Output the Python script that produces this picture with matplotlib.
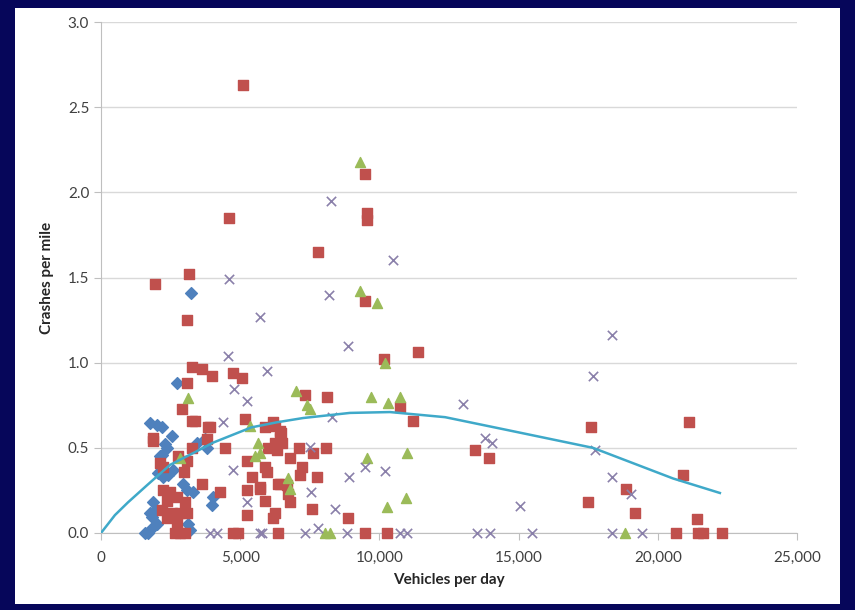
import matplotlib
matplotlib.use("Agg")
import matplotlib.pyplot as plt
from matplotlib.patches import Rectangle
from matplotlib.ticker import FuncFormatter, MultipleLocator

plt.rcParams['font.family'] = ['Lato', 'DejaVu Sans']

# blue diamonds
blue_x = [3230, 2730, 1760, 2010, 2190, 2550, 2370, 2190, 2120, 2300, 3450, 3740,
          2050, 2230, 2590, 2410, 2950, 3090, 3310, 1870, 1940, 1830, 1760,
          1580, 1690, 2010, 1830, 3120, 3200, 4020, 3990, 3810]
blue_y = [1.41, 0.88, 0.645, 0.635, 0.62, 0.57, 0.50, 0.46, 0.45, 0.52, 0.53, 0.55,
          0.35, 0.33, 0.37, 0.34, 0.29, 0.25, 0.24, 0.18, 0.135, 0.094, 0.12,
          0.0, 0.0, 0.05, 0.03, 0.05, 0.02, 0.21, 0.165, 0.50]

# red squares
red_x = [5100, 9480, 9550, 9550, 4600, 7800, 1940, 3160, 9480, 3090, 10170, 11390,
         3270, 3630, 3990, 4740, 5060, 3090, 2910, 3270, 3380, 3840, 1870, 1870,
         3270, 2770, 3090, 2120, 2230, 3810, 2980, 3630,
         2230, 2480, 2370, 2730, 3020, 2190, 2550, 2840, 3090, 2370, 2730,
         2660, 2840, 3020,
         7330, 8120, 10740, 11210, 6180, 6430, 6430, 6250, 6000, 5890, 7110, 7620,
         8080, 6790, 7220, 7150, 7760, 5890, 5960, 5710, 6430, 6720, 6790, 5890,
         6250, 7580, 8870, 5170, 3920, 6250, 6470, 6500, 6320, 4450, 5240, 5420,
         5710, 6360, 6680, 5240, 4270, 5240, 6180,
         4740, 4920, 6360, 9480, 10270,
         17600, 21120, 13430, 13940, 20900, 18860, 17490, 19180, 21410,
         20650, 21440, 21620, 22310]
red_y = [2.63, 2.11, 1.88, 1.84, 1.85, 1.65, 1.46, 1.52, 1.36, 1.25, 1.02, 1.06,
         0.975, 0.96, 0.92, 0.94, 0.91, 0.88, 0.73, 0.66, 0.66, 0.62, 0.56, 0.54,
         0.50, 0.45, 0.42, 0.41, 0.39, 0.55, 0.36, 0.29,
         0.25, 0.24, 0.19, 0.21, 0.18, 0.135, 0.12, 0.12, 0.12, 0.09, 0.065,
         0.0, 0.0, 0.0,
         0.81, 0.80, 0.74, 0.66, 0.65, 0.60, 0.56, 0.53, 0.50, 0.62, 0.50, 0.47,
         0.50, 0.44, 0.39, 0.34, 0.33, 0.39, 0.36, 0.27, 0.29, 0.23, 0.18, 0.19,
         0.12, 0.14, 0.09, 0.67, 0.62, 0.63, 0.59, 0.53, 0.49, 0.50, 0.42, 0.33,
         0.26, 0.29, 0.28, 0.25, 0.24, 0.105, 0.09,
         0.0, 0.0, 0.0, 0.0, 0.0,
         0.62, 0.65, 0.49, 0.44, 0.34, 0.26, 0.18, 0.12, 0.08,
         0.0, 0.0, 0.0, 0.0]

# green triangles
green_x = [9300, 9300, 9910, 3120, 2840, 7000, 7400, 7510, 9700, 10310, 10740,
           5350, 5640, 5710, 5530, 6720, 6790, 9550, 10990, 10950, 10270, 10200,
           8050, 8230, 18820]
green_y = [2.18, 1.42, 1.35, 0.79, 0.44, 0.835, 0.75, 0.73, 0.80, 0.765, 0.80,
           0.63, 0.53, 0.47, 0.45, 0.32, 0.26, 0.44, 0.47, 0.205, 0.15, 1.00,
           0.0, 0.0, 0.0]

# grey crosses
grey_x = [4600, 5710, 4560, 5960, 4780, 5240, 4380, 8260, 10490, 8190, 8870, 8300,
          7510, 4740, 5240, 7540, 9480, 10200, 8900, 8400, 7800,
          18350, 17670, 13000, 13790, 14040, 17740, 18350, 19040, 15050,
          3920, 4170, 5710, 5780, 7330, 8840, 10740, 10990, 13510, 13970, 15480,
          18350, 19430]
grey_y = [1.49, 1.27, 1.04, 0.95, 0.845, 0.775, 0.65, 1.95, 1.60, 1.40, 1.10, 0.68,
          0.505, 0.37, 0.18, 0.24, 0.39, 0.365, 0.33, 0.14, 0.03,
          1.16, 0.92, 0.76, 0.56, 0.53, 0.49, 0.33, 0.23, 0.16,
          0.0, 0.0, 0.0, 0.0, 0.0, 0.0, 0.0, 0.0, 0.0, 0.0, 0.0,
          0.0, 0.0]

# trend line
trend_x = [0, 500, 970, 1650, 2480, 3380, 4020, 5400, 6320, 7260, 8940, 10380,
           12360, 14580, 17670, 20550, 22230]
trend_y = [0.0, 0.105, 0.18, 0.28, 0.40, 0.475, 0.53, 0.62, 0.65, 0.675, 0.705, 0.71,
           0.68, 0.605, 0.50, 0.32, 0.235]

fig = plt.figure(figsize=(8.55, 6.10), dpi=100, facecolor='#06065a')
fig.patches.append(Rectangle((15 / 855, 1 - 604 / 610), 825 / 855, 596 / 610,
                             transform=fig.transFigure, facecolor='white',
                             edgecolor='none', zorder=-5))

ax = fig.add_axes([101 / 855, 1 - 533 / 610, 696 / 855, 511 / 610])
ax.set_zorder(2)
ax.set_facecolor('white')

ax.scatter(blue_x, blue_y, marker='D', s=36, color='#4f81bd', zorder=3, clip_on=False)
ax.scatter(red_x, red_y, marker='s', s=50, color='#c0504d', zorder=3, clip_on=False)
ax.scatter(green_x, green_y, marker='^', s=52, color='#9bbb59', zorder=3, clip_on=False)
ax.scatter(grey_x, grey_y, marker='x', s=45, color='#8a80aa', linewidths=1.2, zorder=3,
           clip_on=False)
ax.plot(trend_x, trend_y, color='#3fa9c9', lw=1.8, zorder=4)

ax.set_xlim(0, 25000)
ax.set_ylim(0, 3.0)
ax.xaxis.set_major_locator(MultipleLocator(5000))
ax.yaxis.set_major_locator(MultipleLocator(0.5))
ax.xaxis.set_major_formatter(FuncFormatter(lambda v, p: f'{int(v):,}'))
ax.yaxis.set_major_formatter(FuncFormatter(lambda v, p: f'{v:.1f}'))
ax.grid(axis='y', color='#d9d9d9', lw=1)
ax.set_axisbelow(True)

for s in ['top', 'right']:
    ax.spines[s].set_visible(False)
for s in ['left', 'bottom']:
    ax.spines[s].set_color('#bfbfbf')
ax.tick_params(axis='both', colors='#bfbfbf', labelcolor='#404040', labelsize=11, length=5)
ax.tick_params(axis='x', pad=8)

ax.set_xlabel('Vehicles per day', fontsize=11, fontweight='bold', color='#262626', labelpad=6)
ax.set_ylabel('Crashes per mile', fontsize=11, fontweight='bold', color='#262626', labelpad=10)

fig.savefig('out.png', dpi=100, facecolor=fig.get_facecolor())
